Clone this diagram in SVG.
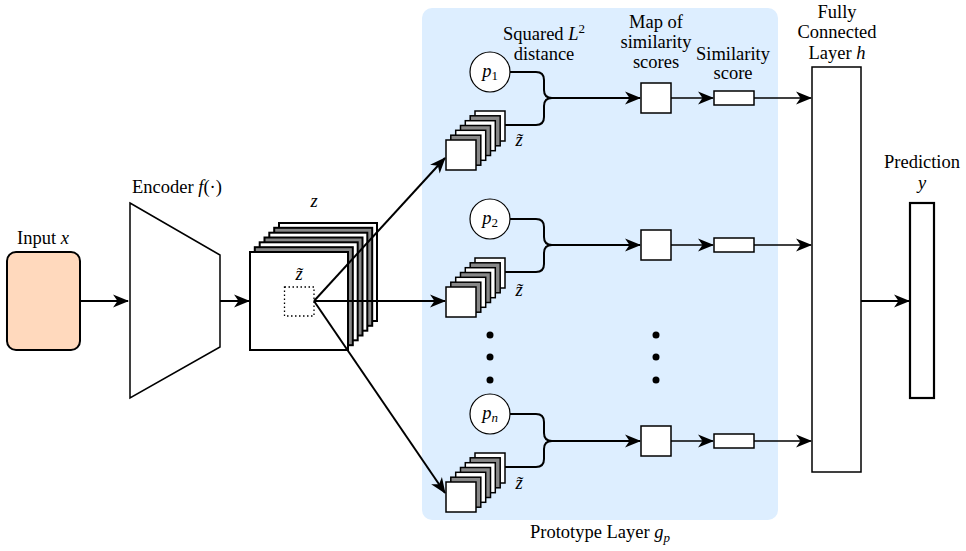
<svg xmlns="http://www.w3.org/2000/svg" width="966" height="551" viewBox="0 0 966 551" font-family="'Liberation Serif', 'DejaVu Serif', serif">
<style>
text{font-family:'Liberation Serif','DejaVu Serif',serif;font-size:18.5px;fill:#000;text-anchor:middle}
.m{font-style:italic}
.sq{fill:#fff;stroke:#000;stroke-width:1.5}
.g{fill:#888;stroke:#000;stroke-width:1.5}
.bq{fill:#fff;stroke:#000;stroke-width:2}
.bg{fill:#888;stroke:#000;stroke-width:2}
.ln{fill:none;stroke:#000;stroke-width:2}
.thin{fill:none;stroke:#000;stroke-width:1.6}
.pc{fill:#fff;stroke:#000;stroke-width:1.2}
</style>
<defs>
<marker id="ah" markerUnits="userSpaceOnUse" markerWidth="20" markerHeight="16" viewBox="-16 -8 18 16" refX="0" refY="0" orient="auto">
<path d="M1,0 L-15,-6.5 L-10.5,0 L-15,6.5 Z" fill="#000"/>
</marker>
<g id="sstack">
<rect class="sq" x="29" y="-29" width="30" height="30"/>
<rect class="g" x="24.2" y="-24.2" width="30" height="30"/>
<rect class="sq" x="19.3" y="-19.3" width="30" height="30"/>
<rect class="g" x="14.5" y="-14.5" width="30" height="30"/>
<rect class="sq" x="9.7" y="-9.7" width="30" height="30"/>
<rect class="g" x="4.8" y="-4.8" width="30" height="30"/>
<rect class="sq" x="0" y="0" width="30" height="30"/>
</g>
</defs>

<g id="prototype-layer">
<rect x="422" y="8" width="356" height="512" rx="10" fill="#ddeeff"/>
<text x="600" y="538">Prototype Layer <tspan class="m">g</tspan><tspan class="m" font-size="13" dy="4">p</tspan></text>
</g>

<g id="input">
<rect x="7" y="252" width="73" height="98" rx="9" fill="#ffd9bd" stroke="#000" stroke-width="2"/>
<text x="43" y="244">Input <tspan class="m">x</tspan></text>
</g>

<g id="encoder">
<polygon points="130,203 220,255 220,347 130,398" fill="#fff" stroke="#000" stroke-width="1.5"/>
<text x="177" y="193">Encoder <tspan class="m">f</tspan>(·)</text>
</g>

<g id="z-stack">
<rect class="bq" x="279" y="223" width="98" height="98"/>
<rect class="bg" x="274.2" y="227.8" width="98" height="98"/>
<rect class="bq" x="269.3" y="232.7" width="98" height="98"/>
<rect class="bg" x="264.5" y="237.5" width="98" height="98"/>
<rect class="bq" x="259.7" y="242.3" width="98" height="98"/>
<rect class="bg" x="254.8" y="247.2" width="98" height="98"/>
<rect class="bq" x="250" y="252" width="98" height="98"/>
<rect x="284.5" y="287" width="29.5" height="29" fill="none" stroke="#000" stroke-width="1.3" stroke-dasharray="1.5,2.5"/>
<text class="m" x="314" y="207">z</text>
<text class="m" x="299" y="280">z̃</text>
</g>

<g id="row1">
<circle class="pc" cx="490" cy="72" r="20"/>
<text x="490" y="77"><tspan class="m">p</tspan><tspan font-size="13" dy="3">1</tspan></text>
<use href="#sstack" x="446" y="140"/>
<text class="m" x="519" y="146">z̃</text>
<rect class="sq" x="641" y="83" width="30" height="30"/>
<rect class="sq" x="714" y="91" width="40" height="14"/>
</g>

<g id="row2">
<circle class="pc" cx="490" cy="219" r="20"/>
<text x="490" y="224"><tspan class="m">p</tspan><tspan font-size="13" dy="3">2</tspan></text>
<use href="#sstack" x="446" y="287"/>
<text class="m" x="519" y="296">z̃</text>
<rect class="sq" x="641" y="230" width="30" height="30"/>
<rect class="sq" x="714" y="238" width="40" height="14"/>
</g>

<g id="rown">
<circle class="pc" cx="490" cy="414" r="20"/>
<text x="490" y="419"><tspan class="m">p</tspan><tspan class="m" font-size="13" dy="3">n</tspan></text>
<use href="#sstack" x="446" y="482"/>
<text class="m" x="519" y="489">z̃</text>
<rect class="sq" x="641" y="426" width="30" height="30"/>
<rect class="sq" x="714" y="434" width="40" height="14"/>
</g>

<g id="dots">
<circle cx="490" cy="335" r="3.5"/>
<circle cx="490" cy="357" r="3.5"/>
<circle cx="490" cy="380" r="3.5"/>
<circle cx="656" cy="335" r="3.5"/>
<circle cx="656" cy="357" r="3.5"/>
<circle cx="656" cy="380" r="3.5"/>
</g>

<g id="labels">
<text x="544" y="40">Squared <tspan class="m">L</tspan><tspan font-size="13" dy="-7">2</tspan></text>
<text x="544" y="60">distance</text>
<text x="656" y="28">Map of</text>
<text x="656" y="48">similarity</text>
<text x="656" y="68">scores</text>
<text x="733" y="60">Similarity</text>
<text x="733" y="79">score</text>
</g>

<g id="fc-layer">
<rect x="812" y="67" width="49" height="405" fill="#fff" stroke="#000" stroke-width="1.5"/>
<text x="837" y="18">Fully</text>
<text x="837" y="38">Connected</text>
<text x="837" y="59">Layer <tspan class="m">h</tspan></text>
</g>

<g id="prediction">
<rect x="910" y="203" width="24" height="195" fill="#fff" stroke="#000" stroke-width="2.2"/>
<text x="922" y="168">Prediction</text>
<text class="m" x="922" y="189">y</text>
</g>

<g id="connectors">
<line class="ln" x1="80" y1="301" x2="128" y2="301" marker-end="url(#ah)"/>
<line class="ln" x1="220" y1="301" x2="249" y2="301" marker-end="url(#ah)"/>
<line class="ln" x1="314" y1="301" x2="445" y2="158" marker-end="url(#ah)"/>
<line class="ln" x1="314" y1="301" x2="445" y2="301" marker-end="url(#ah)"/>
<line class="ln" x1="314" y1="301" x2="445" y2="493" marker-end="url(#ah)"/>

<path class="ln" d="M510,72 H536 Q544,72 544,80 V90 Q544,98 552,98"/>
<path class="ln" d="M505,125 H536 Q544,125 544,117 V106 Q544,98 552,98"/>
<line class="ln" x1="548" y1="98" x2="640" y2="98" marker-end="url(#ah)"/>
<line class="thin" x1="671" y1="98" x2="713" y2="98" marker-end="url(#ah)"/>
<line class="thin" x1="754" y1="98" x2="811" y2="98" marker-end="url(#ah)"/>

<path class="ln" d="M510,219 H536 Q544,219 544,227 V237 Q544,245 552,245"/>
<path class="ln" d="M505,272 H536 Q544,272 544,264 V253 Q544,245 552,245"/>
<line class="ln" x1="548" y1="245" x2="640" y2="245" marker-end="url(#ah)"/>
<line class="thin" x1="671" y1="245" x2="713" y2="245" marker-end="url(#ah)"/>
<line class="thin" x1="754" y1="245" x2="811" y2="245" marker-end="url(#ah)"/>

<path class="ln" d="M510,414 H536 Q544,414 544,422 V433 Q544,441 552,441"/>
<path class="ln" d="M505,467 H536 Q544,467 544,459 V449 Q544,441 552,441"/>
<line class="ln" x1="548" y1="441" x2="640" y2="441" marker-end="url(#ah)"/>
<line class="thin" x1="671" y1="441" x2="713" y2="441" marker-end="url(#ah)"/>
<line class="thin" x1="754" y1="441" x2="811" y2="441" marker-end="url(#ah)"/>

<line class="ln" x1="861" y1="301" x2="909" y2="301" marker-end="url(#ah)"/>
</g>
</svg>
